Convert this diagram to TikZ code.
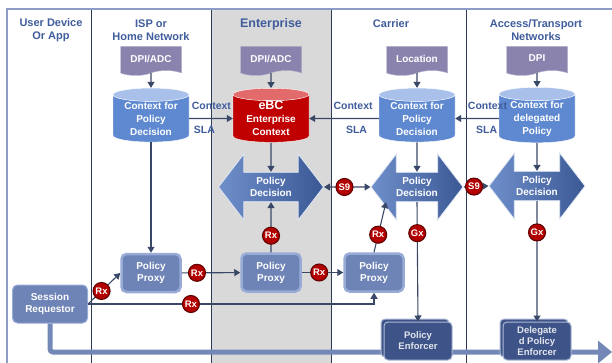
\documentclass[tikz,border=0pt]{standalone}
\usepackage{fontspec}
\setmainfont{Liberation Sans}
\usetikzlibrary{shapes.geometric,shapes.symbols,shapes.arrows,arrows.meta,shadows}

\definecolor{hdrblue}{HTML}{3F5C9C}
\definecolor{linkcol}{HTML}{3A4868}
\definecolor{docfill}{HTML}{8983AE}
\definecolor{storebody}{HTML}{5E89D0}
\definecolor{storetop}{HTML}{A9C1EA}
\definecolor{redbody}{HTML}{C00000}
\definecolor{redtop}{HTML}{E26A6A}
\definecolor{pdpleft}{HTML}{6F8FCB}
\definecolor{pdpright}{HTML}{3A5894}
\definecolor{proxyfill}{HTML}{6E83B6}
\definecolor{proxyrim}{HTML}{98ABD6}
\definecolor{enffill}{HTML}{3E5488}
\definecolor{enfrim}{HTML}{AEB9D6}
\definecolor{tagred}{HTML}{B30000}
\definecolor{flowcol}{HTML}{7488B8}
\definecolor{framecol}{HTML}{8C9CC6}
\definecolor{entgray}{HTML}{D9D9D9}
\definecolor{divider}{HTML}{2F3A56}

\tikzset{
  hdr/.style={text=hdrblue, font=\bfseries\fontsize{11}{13}\selectfont, align=center},
  ctx/.style={text=hdrblue, font=\bfseries\fontsize{10.5}{12}\selectfont},
  docbox/.style={tape, tape bend top=none, tape bend height=5pt, minimum width=61pt,
    minimum height=29pt, fill=docfill, draw=docfill!60!white, text=white,
    font=\bfseries\fontsize{10}{11}\selectfont},
  store/.style={cylinder, shape border rotate=90, aspect=0.25, minimum width=76pt,
    minimum height=54pt, cylinder uses custom fill, cylinder body fill=storebody,
    cylinder end fill=storetop, draw=white, text=white, align=center, inner sep=0pt,
    font=\bfseries\fontsize{10}{13}\selectfont},
  redstore/.style={store, cylinder body fill=redbody, cylinder end fill=redtop},
  decision/.style={double arrow, double arrow tip angle=105, double arrow head extend=12.5pt,
    minimum width=66pt, minimum height=100pt, left color=pdpleft, right color=pdpright,
    draw=white!80!pdpleft, line width=.8pt, text=white, align=center, inner sep=0pt,
    font=\bfseries\fontsize{10}{12}\selectfont},
  proxy/.style={rectangle, rounded corners=5pt, minimum width=59pt, minimum height=38pt,
    fill=proxyfill, draw=proxyrim, line width=2.5pt, text=white, align=center,
    font=\bfseries\fontsize{10}{12}\selectfont},
  requestor/.style={proxy, minimum width=75pt, line width=1pt},
  enforcer/.style={rectangle, rounded corners=4pt, minimum width=68pt, minimum height=38pt,
    fill=enffill, draw=enfrim, line width=1pt, text=white!85!enffill, align=center,
    font=\bfseries\fontsize{9.5}{11}\selectfont,
    general shadow={shadow xshift=-3pt, shadow yshift=3pt, fill=enffill, draw=enfrim}},
  tag/.style={circle, fill=tagred, draw=tagred!55!black, inner sep=0pt, minimum size=17pt,
    text=white, font=\bfseries\fontsize{9.5}{9.5}\selectfont},
  link/.style={draw=linkcol, line width=1.1pt, -{Triangle[length=6pt,width=7pt]}},
  both/.style={link, {Triangle[length=6pt,width=7pt]}-{Triangle[length=6pt,width=7pt]}},
  flow/.style={draw=flowcol, line width=5pt, rounded corners=3pt,
    -{Triangle[length=14pt,width=22pt]}}
}

\begin{document}
\begin{tikzpicture}[x=1pt,y=-1pt]
  \useasboundingbox (0,0) rectangle (612,363);

  % columns
  \fill[entgray] (211,9) rectangle (331,363);
  \foreach \x in {91,211,331,466}
    \draw[divider, line width=.8pt] (\x,9) -- (\x,363);
  \draw[framecol, line width=1.5pt] (612,9) -- (7,9) -- (7,363);

  \node[hdr] (h1) at (51,30.5) {User Device\\Or App};
  \node[hdr] (h2) at (151,30.5) {ISP or\\Home Network};
  \node[hdr, font=\bfseries\fontsize{12.5}{14}\selectfont] (h3) at (271,24) {Enterprise};
  \node[hdr] (h4) at (391,24) {Carrier};
  \node[hdr] (h5) at (536,30.5) {Access/Transport\\Networks};

  % context sources
  \node[docbox] (ispdoc) at (151,58.5) {DPI/ADC};
  \node[docbox] (entdoc) at (271,58.5) {DPI/ADC};
  \node[docbox] (cardoc) at (417,58.5) {Location};
  \node[docbox] (accdoc) at (537,58.5) {DPI};

  \node[store] (ispctx) at (151,118.5) {Context for\\Policy\\Decision};
  \node[redstore] (ebc) at (271,118.5) {{\fontsize{12.5}{13}\selectfont eBC}\\Enterprise\\Context};
  \node[store] (carctx) at (417,118.5) {Context for\\Policy\\Decision};
  \node[store] (accctx) at (537,118.5) {Context for\\delegated\\Policy};

  % policy decision points
  \node[decision, minimum height=105pt] (entpdp) at (271,187) {Policy\\Decision};
  \node[decision, minimum height=92pt] (carpdp) at (417,187) {Policy\\Decision};
  \node[decision, minimum height=96pt] (accpdp) at (537,186) {Policy\\Decision};

  % bottom flow
  \coordinate (flowend) at (612,352);
  \node[requestor] (req) at (50,304) {Session\\Requestor};
  \draw[flow] (req.south) |- (flowend);

  \node[proxy] (proxy1) at (151,273) {Policy\\Proxy};
  \node[proxy] (proxy2) at (271,272.5) {Policy\\Proxy};
  \node[proxy] (proxy3) at (374,272.5) {Policy\\Proxy};

  \node[enforcer] (enf1) at (418,341) {Policy\\Enforcer};
  \node[enforcer] (enf2) at (537,341) {Delegate\\d Policy\\Enforcer};

  % connectors
  \foreach \a/\b in {ispdoc/ispctx,entdoc/ebc,cardoc/carctx,accdoc/accctx,
                     ebc/entpdp,carctx/carpdp,accctx/accpdp,ispctx/proxy1}
    \draw[link] (\a) -- (\b);

  \draw[link] (ispctx.east) -- node[ctx, above=5pt, pos=.51] (c1) {Context}
    node[ctx, below=4pt, pos=.35] (s1) {SLA} (ebc.west);
  \draw[link] (carctx.west) -- node[ctx, above=5pt, pos=.37] (c2) {Context}
    node[ctx, below=4pt, pos=.32] (s2) {SLA} (ebc.east);
  \draw[link] (accctx.west) -- node[ctx, above=5pt, pos=.26] (c3) {Context}
    node[ctx, below=4pt, pos=.28] (s3) {SLA} (carctx.east);

  \draw[link] (req.east) -- node[tag, pos=.42] (rx1) {Rx} (proxy1.west);
  \draw[link] (req.east) -| node[tag, pos=.18] (rx2) {Rx} (proxy3.south);
  \draw[link] (proxy1) -- node[tag, pos=.26] (rx3) {Rx} (proxy2);
  \draw[link] (proxy2) -- node[tag, pos=.42] (rx4) {Rx} (proxy3);
  \draw[link] (proxy2) -- node[tag, pos=.33] (rx5) {Rx} (entpdp.south);
  \draw[link] (proxy3.north) -- node[tag, pos=.35] (rx6) {Rx} ([xshift=-31pt]carpdp.south);

  \draw[both] (entpdp.east) -- node[tag, pos=.44] (s9a) {S9} (carpdp.west);
  \draw[both] (carpdp.east) -- node[tag, pos=.42] (s9b) {S9} (accpdp.west);

  \draw[link] (carpdp.south) -- node[tag, pos=.26] (gx1) {Gx} (enf1.north);
  \draw[link] (accpdp.south) -- node[tag, pos=.26] (gx2) {Gx} (enf2.north);
\end{tikzpicture}
\end{document}
